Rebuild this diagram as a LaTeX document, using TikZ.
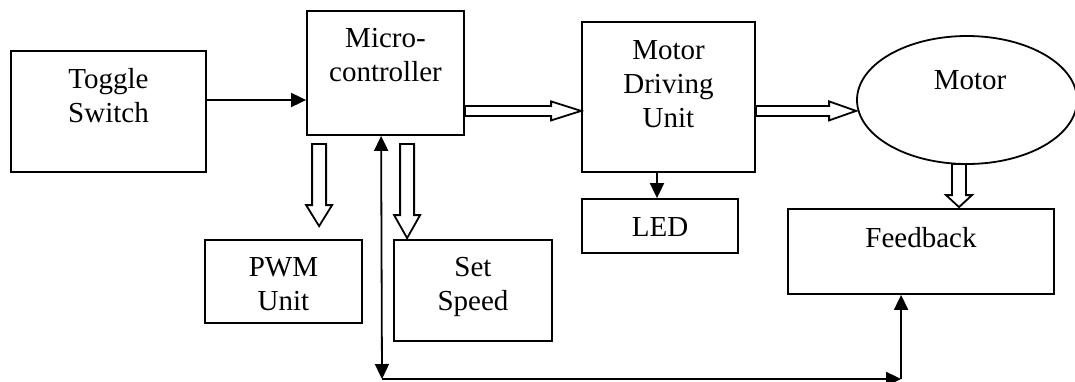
\documentclass[tikz,border=0pt]{standalone}
\usepackage{fontspec}
\setmainfont{Liberation Serif}
\usetikzlibrary{calc,arrows.meta,shapes.geometric}
\tikzset{
  blk/.style={draw, line width=0.9pt, inner sep=0pt, rectangle},
  oval/.style={draw, line width=0.9pt, inner sep=0pt, ellipse},
  lbl/.style={anchor=base, inner sep=0pt, font=\fontsize{14.5}{17}\selectfont},
  hollow/.style={draw, line width=0.9pt, fill=white, line join=miter},
  arr/.style={line width=0.9pt, -{Triangle[length=7.5pt,width=7pt]}},
  arrb/.style={line width=0.9pt, {Triangle[length=7.5pt,width=7pt]}-{Triangle[length=7.5pt,width=7pt]}}
}
\newcommand\hollowH[3]{% start, tip, head length
  \draw[hollow] let \p1=(#1), \p2=(#2) in
    (\x1,\y1+2.5pt) -- (\x2-#3,\y1+2.5pt) -- (\x2-#3,\y1+4.75pt) -- (\x2,\y1)
    -- (\x2-#3,\y1-4.75pt) -- (\x2-#3,\y1-2.5pt) -- (\x1,\y1-2.5pt) -- cycle;}
\newcommand\hollowV[3]{% start, tip, head length
  \draw[hollow] let \p1=(#1), \p2=(#2) in
    (\x1-3.5pt,\y1) -- (\x1-3.5pt,\y2+#3) -- (\x1-6.5pt,\y2+#3) -- (\x1,\y2)
    -- (\x1+6.5pt,\y2+#3) -- (\x1+3.5pt,\y2+#3) -- (\x1+3.5pt,\y1) -- cycle;}
\begin{document}
\begin{tikzpicture}[x=0.5pt,y=-0.5pt]
\useasboundingbox (0,0) rectangle (1075,381);

% boxes
\node[blk, minimum width=97.5pt, minimum height=60.5pt] (tog) at (108.5,111.5) {};
\node[blk, minimum width=78.5pt, minimum height=62pt] (mcu) at (385.5,73) {};
\node[blk, minimum width=86.5pt, minimum height=75pt] (mdu) at (668.5,97) {};
\node[blk, minimum width=78pt, minimum height=27pt] (led) at (660,226) {};
\node[oval, minimum width=110pt, minimum height=64pt] (mot) at (967,100) {};
\node[blk, minimum width=133pt, minimum height=42.5pt] (fb) at (921,251.5) {};
\node[blk, minimum width=78.5pt, minimum height=41.5pt] (pwm) at (283.5,281.5) {};
\node[blk, minimum width=79pt, minimum height=50.5pt] (set) at (473,290.5) {};

% texts
\node[lbl] (togT) at ($(tog.north)+(0,38)$) {\begin{tabular}[t]{@{}c@{}}Toggle\\Switch\end{tabular}};
\node[lbl] (mcuT) at ($(mcu.north)+(0,37)$) {\begin{tabular}[t]{@{}c@{}}Micro-\\controller\end{tabular}};
\node[lbl] (mduT) at ($(mdu.north)+(0,38)$) {\begin{tabular}[t]{@{}c@{}}Motor\\Driving\\Unit\end{tabular}};
\node[lbl] (ledT) at ($(led.north)+(0,38)$) {LED};
\node[lbl] (motT) at ($(mot.north)+(3,54)$) {Motor};
\node[lbl] (fbT) at ($(fb.north)+(0,39)$) {Feedback};
\node[lbl] (pwmT) at ($(pwm.north)+(0,37)$) {\begin{tabular}[t]{@{}c@{}}PWM\\Unit\end{tabular}};
\node[lbl] (setT) at ($(set.north)+(0,37)$) {\begin{tabular}[t]{@{}c@{}}Set\\Speed\end{tabular}};

% filled arrows
\coordinate (t1) at ($(tog.east)+(0,-11.5)$);
\draw[arr] (t1) -- (t1 -| mcu.west);
\coordinate (l1) at ($(led.north)+(-3,0)$);
\draw[arr] (mdu.south -| l1) -- (l1);

% feedback loop
\coordinate (c1) at ($(mcu.south west)+(75,0)$);
\coordinate (cb) at (382,379);
\coordinate (f1) at ($(fb.south west)+(114,0)$);
\draw[arrb] (c1) -- (cb);
\draw[arr] (cb) -- (cb -| f1);
\draw[arr] (cb -| f1) -- (f1);

% hollow block arrows
\hollowH{$(mcu.south east)+(0,-25)$}{mdu.west}{15pt}
\hollowH{$(mdu.south east)+(0,-62)$}{mot.west}{13.5pt}
\hollowV{$(mcu.south west)+(13,8)$}{$(pwm.north)+(0,-13)$}{10.5pt}
\hollowV{$(mcu.south west)+(101,8)$}{$(set.north)+(0,-1)$}{11.5pt}
\hollowV{$(mot.south)+(-8,-1)$}{$(fb.north)+(0,-1)$}{6pt}
\end{tikzpicture}
\end{document}
